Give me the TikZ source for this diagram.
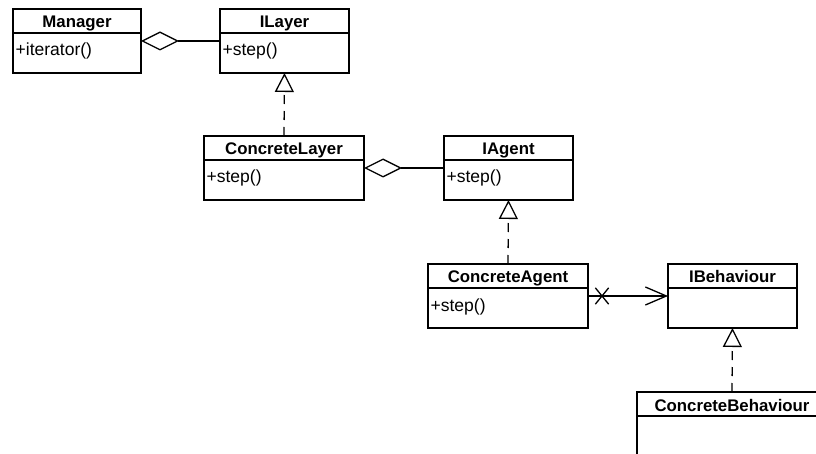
\documentclass[tikz,border=0pt]{standalone}
\usepackage{fontspec}
\setmainfont{Liberation Sans}
\usetikzlibrary{arrows.meta,shapes.misc}

\newcommand{\umlclass}[6]{%
  \node[classbox,minimum width=#4pt,anchor=north west] (#1) at (#2,#3) {};
  \draw (#1.north west) ++(0,24) -- ++(#4,0);
  \path (#1.north) ++(0,19) node[classtitle] (#1-title) {#5};
  \path (#1.north west) ++(2,47) node[classop] (#1-op) {#6};
}

\begin{document}
\begin{tikzpicture}[x=1pt,y=-1pt,line width=1.3pt,
  classbox/.style={draw,fill=white,rectangle,minimum height=64pt,inner sep=0pt,outer sep=0pt},
  classtitle/.style={anchor=base,inner sep=0pt,font=\fontsize{16.8}{20}\selectfont\bfseries},
  classop/.style={anchor=base west,inner sep=0pt,font=\fontsize{17.5}{20}\selectfont},
  aggregation/.style={-{Diamond[open,length=38pt,width=19pt]}},
  realization/.style={dash pattern=on 9pt off 7pt,-{Triangle[open,length=19pt,width=19pt]}},
  navigable/.style={-{Straight Barb[length=21pt,width=18pt]}},
  xmark/.style={cross out,draw,solid,minimum width=12pt,minimum height=15pt,inner sep=0pt}]
  \useasboundingbox (0,0) rectangle (816,454);
  \fill[white] (0,0) rectangle (816,454);
  \clip (0,0) rectangle (816,454);

  \umlclass{manager}{13}{9}{128}{Manager}{+iterator()}
  \umlclass{ilayer}{220}{9}{129}{ILayer}{+step()}
  \umlclass{clayer}{204}{136}{160}{ConcreteLayer}{+step()}
  \umlclass{iagent}{444}{136}{129}{IAgent}{+step()}
  \umlclass{cagent}{428}{264}{160}{ConcreteAgent}{+step()}
  \umlclass{ibehav}{668}{264}{129}{IBehaviour}{}
  \umlclass{cbehav}{637}{392}{190}{ConcreteBehaviour}{}

  \draw[aggregation] (ilayer.west) -- (manager.east);
  \draw[aggregation] (iagent.west) -- (clayer.east);
  \draw[realization] (clayer.north) -- (ilayer.south);
  \draw[realization] (cagent.north) -- (iagent.south);
  \draw[realization] (cbehav.north) -- (ibehav.south);
  \draw[navigable] (cagent.east) -- node[pos=0.175,xmark] (navx) {} (ibehav.west);
\end{tikzpicture}
\end{document}
